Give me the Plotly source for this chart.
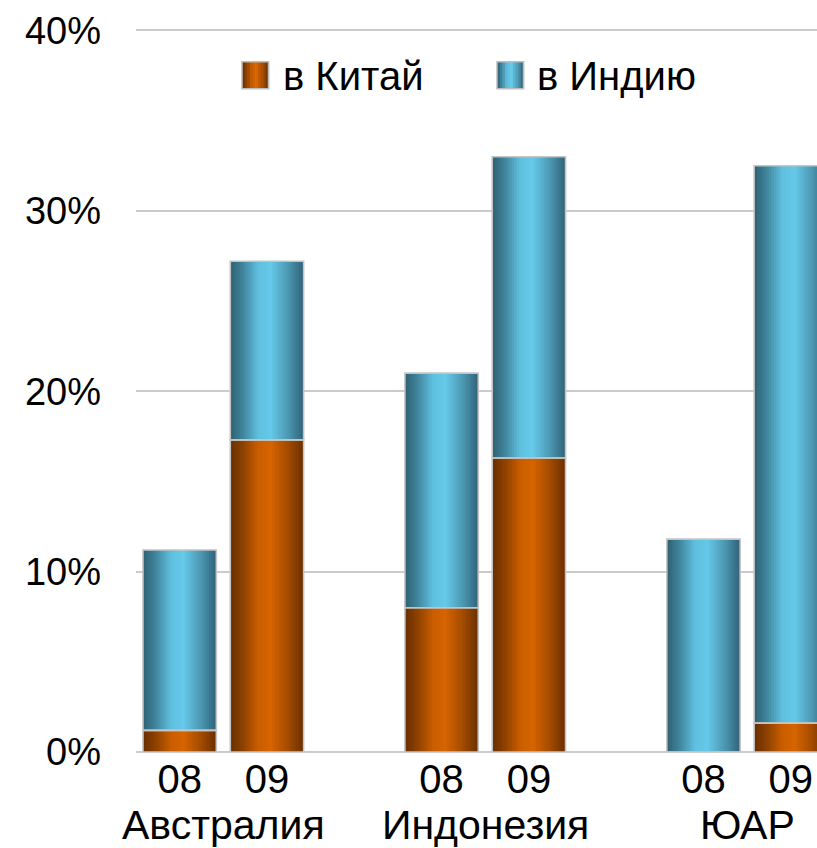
import numpy as np
import plotly.graph_objects as go

# ---- data -------------------------------------------------------------
groups = ["Австралия", "Индонезия", "ЮАР"]
years = ["08", "09"]
series_names = ["в Китай", "в Индию"]
china = [1.2, 17.3, 8.0, 16.3, 0.0, 1.6]     # % share, order: group x year
india = [10.0, 9.9, 13.0, 16.7, 11.8, 30.9]
y_tick_vals = [0, 10, 20, 30, 40]
y_tick_text = ["0%", "10%", "20%", "30%", "40%"]

# ---- style ------------------------------------------------------------
FONT = "Liberation Sans, Arial, Helvetica, sans-serif"
BAR_W = 0.84
N_SLICES = 30
OUTLINE = "#c4c4c4"
GRID = "#cbcbcb"
ORANGE_STOPS = [(0.0, "#682e00"), (0.18, "#8f4200"), (0.38, "#c95d00"),
                (0.55, "#d66400"), (0.78, "#a54c00"), (1.0, "#6a3000")]
BLUE_STOPS = [(0.0, "#2d6073"), (0.18, "#42879f"), (0.38, "#5fbfdf"),
              (0.55, "#66c9e9"), (0.78, "#4d9ab4"), (1.0, "#30627a")]
Y_MAX = 40.3  # a little headroom so the 40% gridline is drawn

# bar slots: two years per group, one empty slot between groups
pos = [g * 3 + k for g in range(len(groups)) for k in range(len(years))]
tick_text = [y for _ in groups for y in years]
group_centers = [float(np.mean(pos[2 * g:2 * g + 2])) for g in range(len(groups))]
base_india = china


def hex_rgb(h):
    h = h.lstrip("#")
    return np.array([int(h[i:i + 2], 16) for i in (0, 2, 4)], dtype=float)


def shade(stops, t):
    for (t0, c0), (t1, c1) in zip(stops[:-1], stops[1:]):
        if t0 <= t <= t1:
            f = (t - t0) / (t1 - t0)
            c = hex_rgb(c0) * (1 - f) + hex_rgb(c1) * f
            return "rgb(%d,%d,%d)" % tuple(np.round(c))
    return stops[-1][1]


fig = go.Figure()

# horizontally shaded bars built from thin vertical strips
series = [(china, None, ORANGE_STOPS), (india, base_india, BLUE_STOPS)]
slice_w = BAR_W / N_SLICES
for vals, base, stops in series:
    for i in range(N_SLICES):
        t = (i + 0.5) / N_SLICES
        w = slice_w * 1.6 if i < N_SLICES - 1 else slice_w
        fig.add_trace(go.Bar(
            x=pos, y=vals, base=base,
            width=w, offset=-BAR_W / 2 + i * slice_w,
            marker=dict(color=shade(stops, t), line=dict(width=0)),
            showlegend=False, hoverinfo="skip",
        ))

# thin grey outline around each segment
for vals, base, _ in series:
    fig.add_trace(go.Bar(
        x=pos, y=vals, base=base, width=BAR_W,
        marker=dict(color="rgba(0,0,0,0)", line=dict(color=OUTLINE, width=1.6)),
        showlegend=False, hoverinfo="skip",
    ))

# group names under the year labels
for name, cx in zip(groups, group_centers):
    fig.add_annotation(x=cx, xref="x", y=0, yref="paper", yanchor="top",
                       yshift=-48, text=name, showarrow=False,
                       font=dict(family=FONT, size=41, color="black"))

# legend: shaded swatches with labels
B = 752.0
PX_PER_UNIT = 18.03
L, R, T = 136.0, 817.0, B - Y_MAX * PX_PER_UNIT


def px_x(v):
    return (v - L) / (R - L)


def px_y(v):
    return (B - v) / (B - T)


legend_items = [(series_names[0], ORANGE_STOPS, 242.0, 281.0),
                (series_names[1], BLUE_STOPS, 497.0, 535.0)]
SW = 26.5
for label, stops, sx, tx in legend_items:
    n = 10
    for i in range(n):
        fig.add_shape(type="rect", xref="paper", yref="paper",
                      x0=px_x(sx + i * SW / n), x1=px_x(sx + (i + 1) * SW / n + 0.6),
                      y0=px_y(89), y1=px_y(62),
                      fillcolor=shade(stops, (i + 0.5) / n), line=dict(width=0),
                      layer="above")
    fig.add_shape(type="rect", xref="paper", yref="paper",
                  x0=px_x(sx), x1=px_x(sx + SW), y0=px_y(89), y1=px_y(62),
                  fillcolor="rgba(0,0,0,0)", line=dict(color="#bdbdbd", width=1.5),
                  layer="above")
    fig.add_annotation(x=px_x(tx), y=px_y(76), xref="paper", yref="paper",
                       xanchor="left", yanchor="middle", text=label,
                       showarrow=False, font=dict(family=FONT, size=40, color="black"))

fig.update_layout(
    width=817, height=848,
    margin=dict(l=L, r=0, t=T, b=848 - B, pad=0),
    barmode="overlay",
    showlegend=False,
    plot_bgcolor="white", paper_bgcolor="white",
    font=dict(family=FONT, color="black"),
    xaxis=dict(range=[-0.5, 7.3], tickmode="array", tickvals=pos, ticktext=tick_text,
               showgrid=False, zeroline=False, showline=False, ticks="",
               tickfont=dict(family=FONT, size=40, color="black"), fixedrange=True),
    yaxis=dict(range=[0, Y_MAX], tickmode="array", tickvals=y_tick_vals, ticktext=y_tick_text,
               showgrid=True, gridcolor=GRID, gridwidth=1.6,
               zeroline=True, zerolinecolor=GRID, zerolinewidth=1.6,
               showline=False, ticks="", ticklabelstandoff=34,
               tickfont=dict(family=FONT, size=38, color="black"), fixedrange=True),
)

fig.write_html("out.html")
